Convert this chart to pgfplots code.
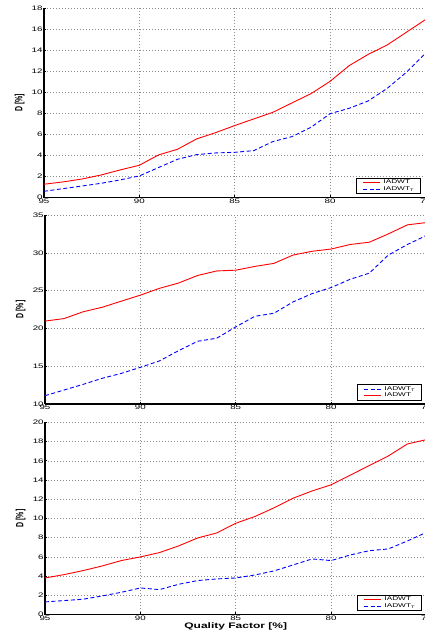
\documentclass[border=0pt]{standalone}
\usepackage{pgfplots}
\pgfplotsset{compat=1.18}
\usepackage{fontspec}
\setmainfont{Liberation Sans}[FakeStretch=1.5]
\newfontfamily\plainfont{Liberation Sans}
\usepackage{graphicx}

\pgfplotstableread{
q    a     b
95  1.27  0.60
94  1.49  0.85
93  1.77  1.10
92  2.15  1.36
91  2.63  1.68
90  3.07  2.06
89  4.05  2.85
88  4.59  3.64
87  5.57  4.08
86  6.17  4.24
85  6.84  4.30
84  7.47  4.46
83  8.10  5.32
82  8.99  5.79
81  9.87  6.68
80 11.04  7.97
79 12.53  8.48
78 13.60  9.18
77 14.50 10.38
76 15.70 11.90
75 16.90 13.70
}\dataA

\pgfplotstableread{
q    a     b
95 20.97 11.10
94 21.30 11.85
93 22.20 12.60
92 22.80 13.40
91 23.60 14.05
90 24.40 14.85
89 25.30 15.70
88 26.00 17.05
87 27.00 18.30
86 27.60 18.70
85 27.70 20.20
84 28.20 21.60
83 28.60 22.00
82 29.70 23.50
81 30.20 24.60
80 30.50 25.40
79 31.10 26.50
78 31.40 27.30
77 32.50 29.70
76 33.70 31.10
75 34.00 32.30
}\dataB

\pgfplotstableread{
q    a     b
95  3.81  1.32
94  4.16  1.46
93  4.58  1.60
92  5.06  1.94
91  5.62  2.32
90  6.00  2.77
89  6.45  2.60
88  7.14  3.15
87  7.97  3.54
86  8.49  3.71
85  9.50  3.81
84 10.20  4.12
83 11.10  4.54
82 12.10  5.16
81 12.86  5.79
80 13.50  5.62
79 14.50  6.20
78 15.50  6.65
77 16.50  6.83
76 17.75  7.66
75 18.20  8.56
}\dataC

\pgfplotsset{
  panel/.style={
    width=381.5pt, scale only axis,
    xmin=75, xmax=95, x dir=reverse,
    xtick={75,80,85,90,95},
    axis x line*=bottom, axis y line*=left,
    axis line style={black, line width=1.1pt},
    tick align=inside, major tick length=2.5pt,
    tick style={black, line width=0.6pt},
    grid=major,
    major grid style={black!45, line width=0.5pt, dash pattern=on 0.7pt off 2.3pt},
    /pgf/number format/assume math mode=true,
    ticklabel style={font=\fontsize{6.5}{7}\selectfont},
    yticklabel style={inner sep=1.2pt},
    xticklabel style={inner sep=0.8pt},
    ylabel={\scalebox{1}[1.5]{\plainfont\fontsize{7}{8}\selectfont\bfseries D [\%]}},
    ylabel style={at={(axis description cs:-0.0637,0.5)}, anchor=center},
    legend image code/.code={\draw[##1] (0pt,0pt) -- (17pt,0pt);},
    legend style={at={(1,0)}, anchor=south east, xshift=-4.5pt, yshift=3.6pt,
      draw=black, line width=0.8pt, font=\fontsize{5.5}{6}\selectfont,
      inner xsep=6pt, inner ysep=1.2pt, row sep=0.3pt, column sep=2.5pt,
      nodes={inner sep=0.5pt},
      cells={anchor=west}},
    legend cell align=left,
  },
  redl/.style={draw=red, color=red, line width=0.9pt},
  bluel/.style={draw=blue, color=blue, line width=0.9pt, dash pattern=on 4pt off 2.5pt},
}

\begin{document}
\begin{tikzpicture}
\begin{axis}[panel, at={(44pt,-8pt)}, anchor=north west, height=189.6pt,
  ymin=0, ymax=18, ytick={0,2,...,18}]
\addplot[redl] table[x=q, y=a] {\dataA};
\addlegendentry{IADWT}
\addplot[bluel] table[x=q, y=b] {\dataA};
\addlegendentry{IADWT\textsubscript{T}}
\end{axis}

\begin{axis}[panel, at={(45pt,-215pt)}, anchor=north west, height=189pt,
  ymin=10, ymax=35, ytick={10,15,...,35}]
\addplot[bluel] table[x=q, y=b] {\dataB};
\addlegendentry{IADWT\textsubscript{T}}
\addplot[redl] table[x=q, y=a] {\dataB};
\addlegendentry{IADWT}
\end{axis}

\begin{axis}[panel, at={(45pt,-422.3pt)}, anchor=north west, height=192.3pt,
  ymin=0, ymax=20, ytick={0,2,...,20},
  xlabel={\fontsize{8}{9}\selectfont\bfseries Quality Factor [\%]},
  xlabel style={inner sep=1pt}]
\addplot[redl] table[x=q, y=a] {\dataC};
\addlegendentry{IADWT}
\addplot[bluel] table[x=q, y=b] {\dataC};
\addlegendentry{IADWT\textsubscript{T}}
\end{axis}
\pgfresetboundingbox
\path[use as bounding box] (0pt,0pt) rectangle (425pt,-640pt);
\end{tikzpicture}
\end{document}
